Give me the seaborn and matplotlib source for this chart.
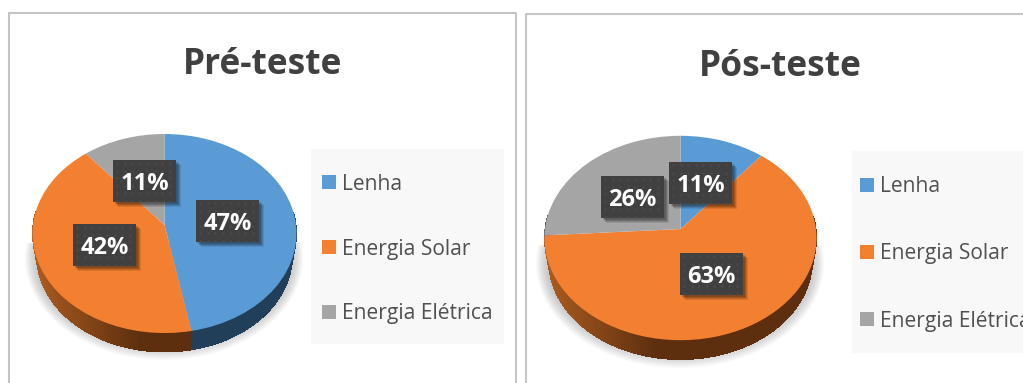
import numpy as np
import matplotlib
matplotlib.use("Agg")
import matplotlib.pyplot as plt
from matplotlib.patches import Rectangle, Ellipse
from matplotlib.path import Path
from matplotlib.transforms import Transform
import seaborn as sns

categories = ["Lenha", "Energia Solar", "Energia Elétrica"]
pre_values = [47, 42, 11]
pos_values = [11, 63, 26]
pre_title = "Pré-teste"
pos_title = "Pós-teste"

sns.set_theme(style="white")
plt.rcParams["font.family"] = ["Open Sans", "DejaVu Sans"]
palette = sns.color_palette(["#5B9BD5", "#F28030", "#A5A5A5"])
W, H = 1023, 383
fig = plt.figure(figsize=(W / 100, H / 100), dpi=100, facecolor="white")


class Perspective(Transform):
    """Tilted disc: unit pie coordinates to pixel coordinates."""
    input_dims = output_dims = 2
    is_separable = False

    def __init__(self, cx, cy, rx, ry, k, scale=1.0, drop=0.0):
        super().__init__()
        self.p = (cx, cy, rx, ry, k, scale, drop)

    def transform_non_affine(self, xy):
        cx, cy, rx, ry, k, s, d = self.p
        xy = np.asarray(xy, float)
        u, v = xy[:, 0] * s, xy[:, 1] * s
        den = 1 + k * v
        return np.column_stack([cx + rx * u / den, cy - ry * v / den + d])

    def transform_path_non_affine(self, path):
        return Path(self.transform_non_affine(path.vertices), path.codes)


def mix(a, b, t):
    a, b = np.array(matplotlib.colors.to_rgb(a)), np.array(matplotlib.colors.to_rgb(b))
    return tuple(a + (b - a) * t)


WALL = {0: ("#213F58", "#213F58"), 1: ("#AC5C20", "#5E2F0F"), 2: ("#5F5F5F", "#5F5F5F")}


def panel(values, L, legend_box, legend_x, legend_ys, boxes, shadow):
    ax = fig.add_axes([0, 0, 1, 1], facecolor="none")
    cx, cy, rx, ry, k, scale, drop = L
    top = Perspective(cx, cy, rx, ry, k)
    low = Perspective(cx, cy, rx, ry, k, scale, drop)

    # soft ground shadow
    sx0, sx1, sy_top, sy_bot = shadow
    clip = Rectangle((sx0 - 5, sy_top), sx1 - sx0 + 10, sy_bot - sy_top + 5, transform=ax.transData)
    sh = sy_bot - sy_top
    n = 16
    for i in range(n):
        t = i / (n - 1)
        hh = (2 * ry + 6) * (1 - 0.13 * t)
        ww = (sx1 - sx0) * (1 - 0.08 * t)
        e = Ellipse(((sx0 + sx1) / 2, sy_bot - (2 * ry + 6) / 2), ww, hh,
                    fc="#8C8C8C", ec="none", alpha=0.035, zorder=1)
        ax.add_patch(e)
        e.set_clip_path(clip)

    # pie faces
    wedges, _ = ax.pie(values, colors=palette, startangle=90, counterclock=False, radius=1,
                       wedgeprops=dict(linewidth=0))
    for w in wedges:
        w.set_transform(top + ax.transData)
        w.set_zorder(5)

    # side wall from the same slices (front of the disc only)
    cum = np.cumsum([0] + list(values)) / sum(values) * 2 * np.pi
    for i in range(len(values)):
        th = np.linspace(cum[i], cum[i + 1], max(4, int((cum[i + 1] - cum[i]) * 60)))
        disc = np.column_stack([np.sin(th), np.cos(th)])
        a = top.transform(disc)
        b = low.transform(disc)
        for j in range(len(th) - 1):
            if disc[j, 1] > 0.12 and disc[j + 1, 1] > 0.12:
                continue
            xm = (a[j, 0] - (cx - rx)) / (2 * rx)
            t = np.clip(xm / 0.42, 0, 1)
            col = mix(WALL[i][0], WALL[i][1], t)
            e = min(j + 2, len(th) - 1)
            ax.fill([a[j, 0], a[e, 0], b[e, 0], b[j, 0]],
                    [a[j, 1], a[e, 1], b[e, 1], b[j, 1]],
                    color=col, lw=0, antialiased=False, zorder=3 - j * 1e-4)

    # data labels
    for v, (x0, y0) in zip(values, boxes):
        bw, bh = 63, 42
        for o, al in ((5, 0.10), (4, 0.12), (3, 0.14), (2, 0.16)):
            ax.add_patch(Rectangle((x0 + o, y0 + o), bw, bh, fc="black", ec="none", alpha=al, zorder=6))
        ax.add_patch(Rectangle((x0, y0), bw, bh, fc="#404040", ec="none", zorder=7))
        xs, ys = np.meshgrid(np.arange(x0 + 4, x0 + bw, 7.5), np.arange(y0 + 3, y0 + bh, 7.5))
        ax.scatter(xs.ravel(), ys.ravel(), s=3, c="#4B4B4B", linewidths=0, zorder=8)
        ax.text(x0 + bw / 2, y0 + bh / 2, f"{v}%", color="white", fontsize=17, fontweight="bold",
                ha="center", va="center_baseline", zorder=9)

    # legend
    bx0, by0, bx1, by1 = legend_box
    ax.add_patch(Rectangle((bx0, by0), bx1 - bx0, by1 - by0, fc="#F8F8F8", ec="none", zorder=2))
    for c, name, y in zip(palette, categories, legend_ys):
        ax.add_patch(Rectangle((legend_x, y - 7), 14, 14, fc=c, ec="none", zorder=3))
        ax.text(legend_x + 20, y - 0.5, name, color="#505050", fontsize=15.1, ha="left",
                va="center_baseline", zorder=3, clip_on=True)

    ax.set_aspect("auto")
    ax.set_xlim(0, W)
    ax.set_ylim(H, 0)
    ax.axis("off")
    return ax


axl = panel(pre_values, (164.5, 225, 131.5, 98.8, 0.0855, 0.97, 22.5),
            (311, 149, 504, 344), 322, (182, 247, 312),
            [(196, 200), (73, 224), (113, 160)], (25, 303, 243, 360))
axr = panel(pos_values, (680.5, 229, 135.5, 101.4, 0.088, 0.97, 23),
            (852, 151, 1023, 353), 860, (185, 252, 319),
            [(669, 162), (680, 253), (601, 176)], (536, 824, 245, 368))

# panel frames and titles
for xs, ys in (([8.8, 8.8, 516, 516], [383, 12.5, 12.5, 383]),
               ([526, 526, 1023], [383, 14, 14])):
    axl.plot(xs, ys, color="#C4C4C4", lw=1.5, zorder=10, clip_on=False)
axl.text(262.5, 61, pre_title, color="#404040", fontsize=25.5, fontweight="bold",
         ha="center", va="center_baseline", zorder=10)
axr.text(780.5, 62, pos_title, color="#404040", fontsize=25.5, fontweight="bold",
         ha="center", va="center_baseline", zorder=10)

fig.savefig("out.png", dpi=100, facecolor="white")
